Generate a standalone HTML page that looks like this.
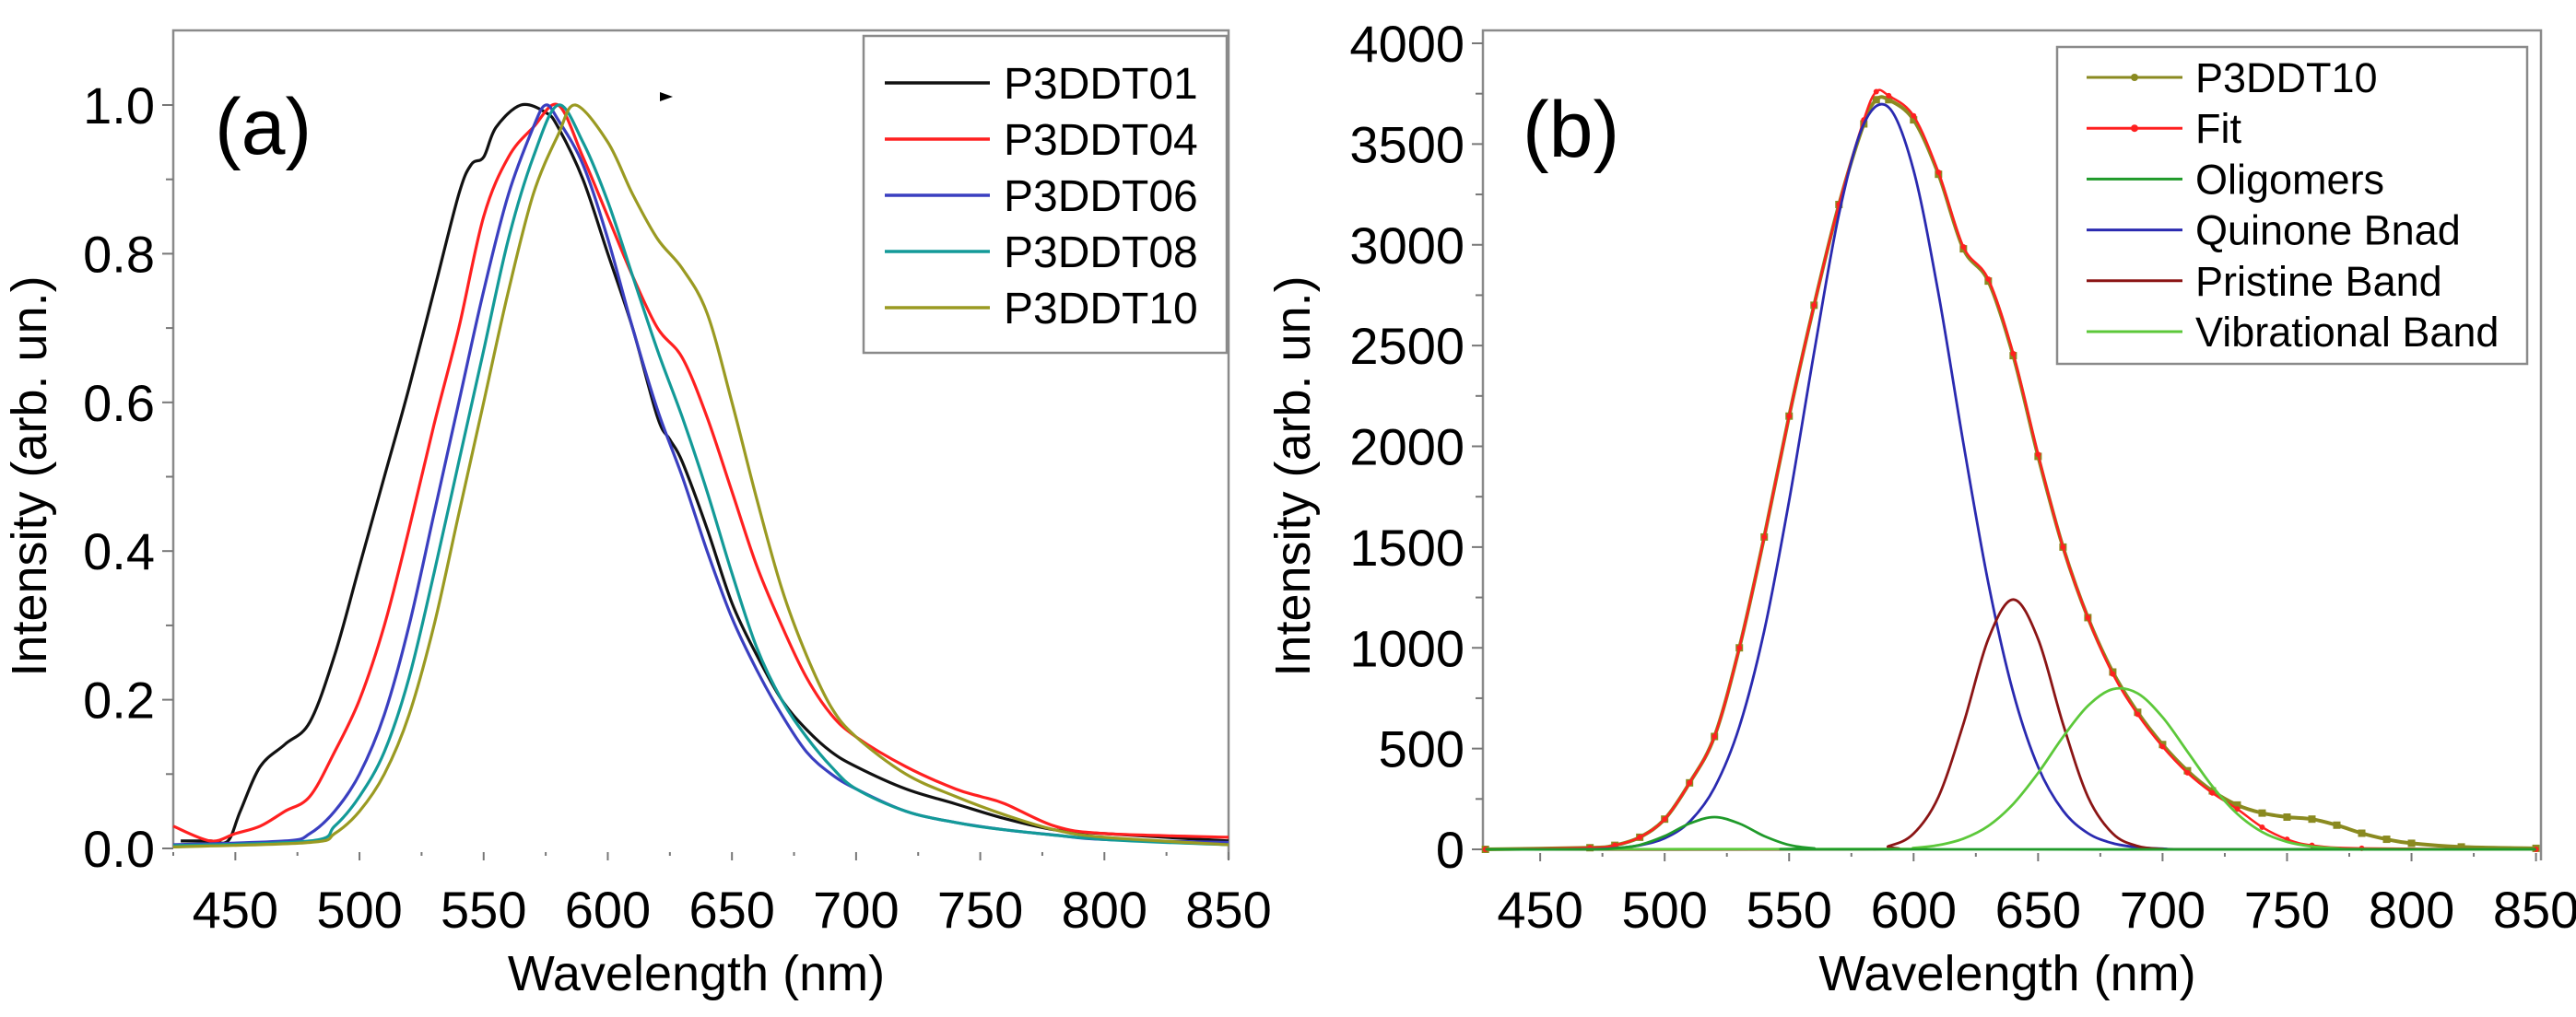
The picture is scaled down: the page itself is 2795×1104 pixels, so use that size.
<!DOCTYPE html>
<html><head><meta charset="utf-8"><style>
html,body{margin:0;padding:0;background:#fff;}
svg{display:block;font-family:"Liberation Sans",Arial,sans-serif;}
</style></head><body>
<svg id="fig" xmlns="http://www.w3.org/2000/svg" width="2795" height="1104" viewBox="0 0 2795 1104">
<g id="pa"></g>
<g id="pb"></g>
</svg>
<script>
// ---------- Panel (a) data ----------
const aXTicks = [450,500,550,600,650,700,750,800,850];
const aYTicks = [0.0,0.2,0.4,0.6,0.8,1.0];
const aYTickLabels = ["0.0","0.2","0.4","0.6","0.8","1.0"];
const aNames = ["P3DDT01","P3DDT04","P3DDT06","P3DDT08","P3DDT10"];
const aColors = ["#111111","#ff2020","#3a3fc0","#139a98","#9a9a22"];
const wl01 = [428,440,447,452,460,470,480,490,500,510,520,530,540,545,550,555,565,575,580,590,600,610,620,625,630,640,650,660,670,680,690,700,720,740,760,780,800,850];
const v01  = [0.01,0.01,0.01,0.05,0.11,0.14,0.17,0.26,0.38,0.5,0.62,0.75,0.88,0.92,0.93,0.97,1.0,0.99,0.97,0.9,0.8,0.7,0.58,0.55,0.52,0.43,0.33,0.26,0.2,0.16,0.13,0.11,0.08,0.06,0.04,0.025,0.02,0.01];
const wl04 = [425,440,450,460,470,480,490,500,510,520,530,540,550,560,570,580,590,600,610,620,630,640,650,660,670,680,690,700,720,740,750,760,780,800,850];
const v04  = [0.03,0.01,0.02,0.03,0.05,0.07,0.13,0.2,0.3,0.43,0.57,0.7,0.85,0.93,0.97,1.0,0.93,0.85,0.77,0.7,0.66,0.58,0.48,0.38,0.3,0.23,0.18,0.15,0.11,0.08,0.07,0.06,0.03,0.02,0.015];
const wl06 = [425,470,480,490,500,510,520,530,540,550,560,570,575,580,590,600,610,620,630,640,650,660,670,680,690,700,720,740,760,780,800,850];
const v06  = [0.005,0.01,0.02,0.05,0.1,0.18,0.3,0.45,0.6,0.75,0.88,0.97,1.0,0.98,0.92,0.82,0.7,0.59,0.5,0.4,0.31,0.24,0.18,0.13,0.1,0.08,0.05,0.035,0.025,0.018,0.012,0.008];
const wl08 = [425,480,490,500,510,520,530,540,550,560,570,580,590,600,610,620,630,640,650,660,670,680,690,700,720,740,760,800,850];
const v08  = [0.004,0.01,0.03,0.07,0.13,0.23,0.37,0.52,0.67,0.82,0.93,1.0,0.95,0.87,0.77,0.67,0.58,0.48,0.37,0.27,0.2,0.15,0.11,0.08,0.05,0.035,0.025,0.012,0.005];
const wl10 = [425,480,490,500,510,520,530,540,550,560,570,580,587,600,610,620,630,640,650,660,670,680,690,700,720,740,760,780,800,850];
const v10  = [0.002,0.008,0.02,0.05,0.1,0.18,0.3,0.45,0.6,0.75,0.88,0.96,1.0,0.95,0.88,0.82,0.78,0.72,0.6,0.47,0.35,0.26,0.19,0.15,0.1,0.07,0.045,0.025,0.015,0.005];

// ---------- Panel (b) data ----------
const bXTicks = [450,500,550,600,650,700,750,800,850];
const bYTicks = [0,500,1000,1500,2000,2500,3000,3500,4000];
const bNames = ["P3DDT10","Fit","Oligomers","Quinone Bnad","Pristine Band","Vibrational Band"];
const bColors = ["#8a8a20","#ff2020","#1f9a2a","#2a2ab0","#8b1515","#5cc83a"];
const bwData = [428,470,480,490,500,510,520,530,540,550,560,570,580,585,590,600,610,620,630,640,650,660,670,680,690,700,710,720,730,740,750,760,770,780,790,800,820,850];
const bvData = [0,8,20,60,150,330,560,1000,1550,2150,2700,3200,3600,3720,3720,3620,3350,2980,2820,2450,1950,1500,1150,880,680,520,390,290,220,180,160,150,120,80,50,30,12,5];
const bwFit = [428,470,480,490,500,510,520,530,540,550,560,570,580,585,590,600,610,620,630,640,650,660,670,680,690,700,710,720,730,740,750,760,780,850];
const bvFit = [0,8,20,60,150,330,560,1000,1550,2150,2700,3200,3620,3760,3740,3640,3360,2990,2830,2460,1960,1500,1150,870,670,510,380,280,200,110,50,20,5,0];
const bwOlig = [428,470,480,490,500,510,520,530,540,550,560,570,850];
const bvOlig = [0,0,5,22,66,128,160,128,66,22,5,0,0];
const bwQuin = [428,470,480,490,500,510,520,530,540,550,560,570,580,590,600,610,620,630,640,650,660,670,680,690,700,720,850];
const bvQuin = [0,1,6,20,55,137,306,608,1084,1729,2465,3152,3600,3682,3369,2757,2015,1323,778,409,192,80,30,10,3,0,0];
const bwPris = [428,580,590,600,610,620,630,640,650,660,670,680,690,700,710,850];
const bvPris = [0,0,16,78,261,622,1043,1240,1043,622,261,78,16,2,0,0];
const bwVib = [428,590,600,610,620,630,640,650,660,670,680,690,700,710,720,730,740,750,760,770,780,850];
const bvVib = [0,2,7,21,53,116,225,379,558,712,795,774,656,485,313,176,86,37,14,5,1,0];

const NS = "http://www.w3.org/2000/svg";
function mk(parent, tag, attrs){
  const e = document.createElementNS(NS, tag);
  for (const k in attrs) e.setAttribute(k, attrs[k]);
  parent.appendChild(e);
  return e;
}
function smoothPath(pts){
  let d = "M" + pts[0][0].toFixed(1) + "," + pts[0][1].toFixed(1);
  for (let i = 0; i < pts.length - 1; i++){
    const p0 = pts[Math.max(0,i-1)], p1 = pts[i], p2 = pts[i+1], p3 = pts[Math.min(pts.length-1,i+2)];
    const c1x = p1[0] + (p2[0]-p0[0])/6, c1y = p1[1] + (p2[1]-p0[1])/6;
    const c2x = p2[0] - (p3[0]-p1[0])/6, c2y = p2[1] - (p3[1]-p1[1])/6;
    d += " C" + c1x.toFixed(1)+","+c1y.toFixed(1)+" "+c2x.toFixed(1)+","+c2y.toFixed(1)+" "+p2[0].toFixed(1)+","+p2[1].toFixed(1);
  }
  return d;
}

function drawFrame(g, L, R, T, B, sx, sy, xTicks, yTicks, yLabels, yMinorStep, ylabelX, tag){
  const ax = mk(g, "path", {d:`M${L},${B} L${L},${T} L${R},${T} L${R},${B+12}`, fill:"none", stroke:"#8a8a8a", "stroke-width":2.5});
  
  
  // x ticks (major + minor)
  for (let v = xTicks[0]-25; v <= xTicks[xTicks.length-1]; v += 25){
    const x = sx(v);
    if (x < L - 1) continue;
    const major = xTicks.indexOf(v) >= 0;
    const t = mk(g, "line", {x1:x, x2:x, y1:B+4, y2:B+(major?13:8), stroke:"#777", "stroke-width":2});
    
    
  }
  xTicks.forEach(v => {
    const t = mk(g, "text", {x:sx(v), y:1007, "font-size":56, "text-anchor":"middle", fill:"#000"});
    t.textContent = String(v);
    
    
  });
  // y ticks
  const y0 = yTicks[0], y1 = yTicks[yTicks.length-1];
  for (let k = 0; y0 + k*yMinorStep <= y1 + 1e-9; k++){
    const v = y0 + k*yMinorStep;
    const y = sy(v);
    const major = (k % 2 === 0);
    const t = mk(g, "line", {x1:L-(major?12:8), x2:L, y1:y, y2:y, stroke:"#777", "stroke-width":2});
    
    
  }
  yTicks.forEach((v,i) => {
    const t = mk(g, "text", {x:L-20, y:sy(v)+20, "font-size":56, "text-anchor":"end", fill:"#000"});
    t.textContent = yLabels[i];
    
    
  });
  const xl = mk(g, "text", {x:(L+R)/2 - 5, y:1075, "font-size":54, "text-anchor":"middle", fill:"#000"});
  xl.textContent = "Wavelength (nm)";
  
  
  const yl = mk(g, "text", {x:0, y:0, "font-size":54, "text-anchor":"middle", fill:"#000", transform:`translate(${ylabelX},517) rotate(-90)`});
  yl.textContent = "Intensity (arb. un.)";
  
  
}

// ---------- Panel A ----------
(function(){
  const g = document.getElementById("pa");
  const L=188, R=1333, T=33, B=921;
  const sx = v => L + (v-425)*(R-L)/(850-425);
  const sy = v => B - v*(B-114);
  drawFrame(g, L, R, T, B, sx, sy, aXTicks, aYTicks, aYTickLabels, 0.1, 50, "panel-a");
  const wls = [wl01,wl04,wl06,wl08,wl10], vals=[v01,v04,v06,v08,v10];
  wls.forEach((w,i) => {
    const pts = w.map((x,j) => [sx(x), sy(vals[i][j])]);
    const p = mk(g, "path", {d:smoothPath(pts), fill:"none", stroke:aColors[i], "stroke-width":3.2, "stroke-linejoin":"round"});
    
    
  });
  const lab = mk(g, "text", {x:233, y:167, "font-size":86, fill:"#000"});
  lab.textContent = "(a)";
  
  
  const arrow = mk(g, "path", {d:"M716,100 L730,105 L716,110 Z", fill:"#000"});
  
  
  // legend
  const lg = mk(g, "g", {});
  
  
  const box = mk(lg, "rect", {x:937, y:39, width:394, height:344, fill:"#fff", stroke:"#8a8a8a", "stroke-width":2.5});
  
  
  aNames.forEach((n,i) => {
    const cy = 90 + i*61;
    const ln = mk(lg, "line", {x1:960, x2:1074, y1:cy, y2:cy, stroke:aColors[i], "stroke-width":3.5});
    
    
    const t = mk(lg, "text", {x:1089, y:cy+17, "font-size":48, fill:"#000"});
    t.textContent = n;
    
    
  });
})();

// ---------- Panel B ----------
(function(){
  const g = document.getElementById("pb");
  const L=1609, R=2757, T=33, B=922;
  const sx = v => L + (v-427)*(R-L)/(852-427);
  const sy = v => B - v*(B-47)/4000;
  drawFrame(g, L, R, T, B, sx, sy, bXTicks, bYTicks, bYTicks.map(String), 250, 1421, "panel-b");
  const series = [
    [bwQuin,bvQuin,3],[bwPris,bvPris,4],[bwVib,bvVib,5],[bwOlig,bvOlig,2]
  ];
  // data first (thick olive with markers), then fit, then components
  const dpts = bwData.map((x,j) => [sx(x), sy(bvData[j])]);
  const dp = mk(g, "path", {d:smoothPath(dpts), fill:"none", stroke:bColors[0], "stroke-width":4});
  
  
  dpts.forEach(p => {
    const m = mk(g, "rect", {x:p[0]-4, y:p[1]-4, width:8, height:8, fill:bColors[0]});
    
    
  });
  const fpts = bwFit.map((x,j) => [sx(x), sy(bvFit[j])]);
  const fp = mk(g, "path", {d:smoothPath(fpts), fill:"none", stroke:bColors[1], "stroke-width":2.5});
  
  
  fpts.forEach(p => {
    const m = mk(g, "circle", {cx:p[0], cy:p[1], r:3, fill:bColors[1]});
    
    
  });
  series.forEach(s => {
    const pts = s[0].map((x,j) => [sx(x), sy(s[1][j])]);
    const p = mk(g, "path", {d:smoothPath(pts), fill:"none", stroke:bColors[s[2]], "stroke-width":2.8});
    
    
  });
  const lab = mk(g, "text", {x:1652, y:170, "font-size":86, fill:"#000"});
  lab.textContent = "(b)";
  
  
  const lg = mk(g, "g", {});
  
  
  const box = mk(lg, "rect", {x:2232, y:51, width:510, height:344, fill:"#fff", stroke:"#8a8a8a", "stroke-width":2.5});
  
  
  bNames.forEach((n,i) => {
    const cy = 84 + i*55.2;
    const ln = mk(lg, "line", {x1:2264, x2:2368, y1:cy, y2:cy, stroke:bColors[i], "stroke-width":3});
    
    
    if (i < 2){
      const d = mk(lg, "circle", {cx:2316, cy:cy, r:4, fill:bColors[i]});
      
      
    }
    const t = mk(lg, "text", {x:2382, y:cy+16, "font-size":45, fill:"#000"});
    t.textContent = n;
    
    
  });
})();
</script>
</body></html>
